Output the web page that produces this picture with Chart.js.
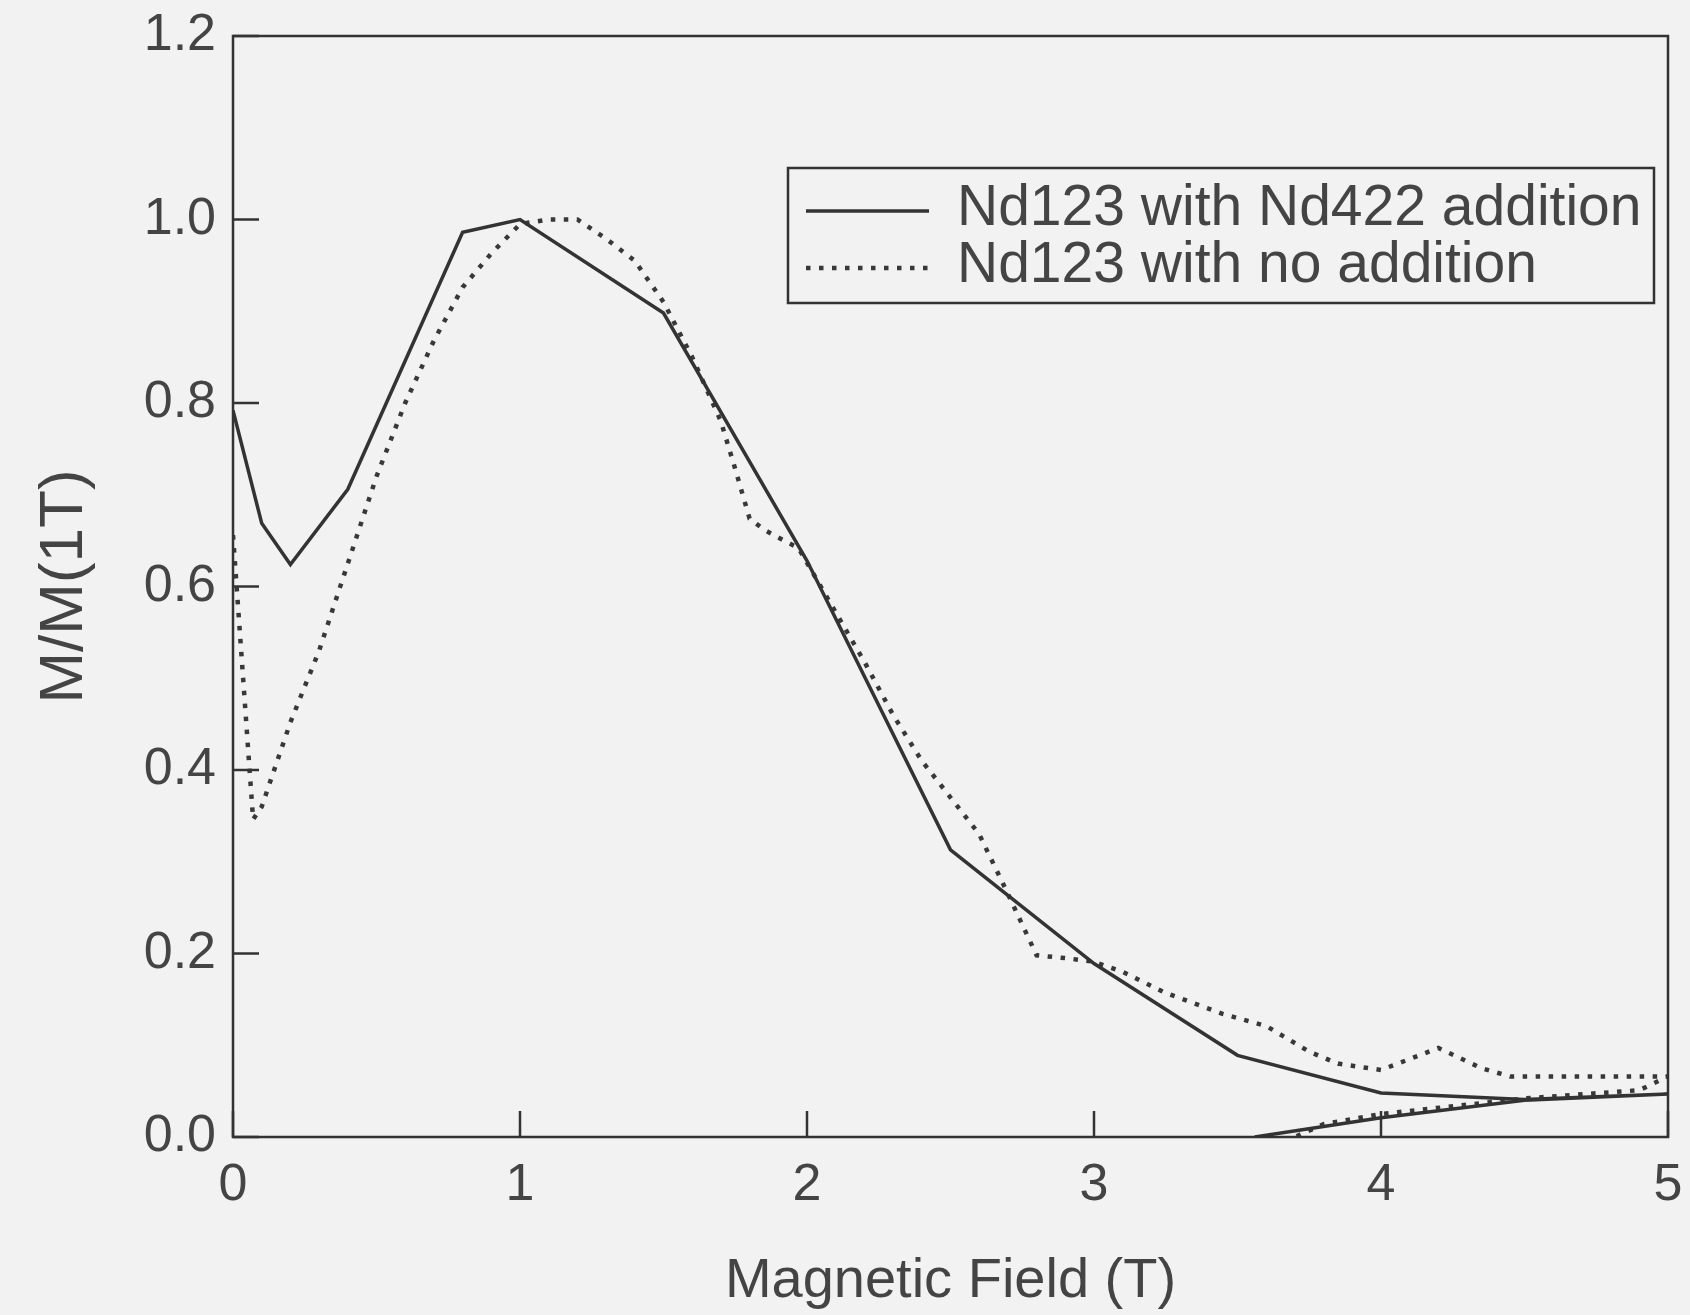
<!DOCTYPE html>
<html>
<head>
<meta charset="utf-8">
<script src="https://cdn.jsdelivr.net/npm/chart.js@4.4.1/dist/chart.umd.min.js"></script>
<style>
html,body{margin:0;padding:0;background:#f3f2f3;}
#wrap{width:1690px;height:1315px;}
canvas{display:block;}
</style>
</head>
<body>
<div id="wrap"><canvas id="c" width="1690" height="1315"></canvas></div>
<script>
// ---- data ----
const seriesLabels = ['Nd123 with Nd422 addition', 'Nd123 with no addition'];
const xTitle = 'Magnetic Field (T)';
const yTitle = 'M/M(1T)';
const xTickValues = [0, 1, 2, 3, 4, 5];
const yTickValues = [0, 0.2, 0.4, 0.6, 0.8, 1.0, 1.2];

// Nd123 with Nd422 addition (up-sweep then return branch)
const nd422Field  = [0, 0.1, 0.2, 0.4, 0.8, 1.0, 1.5, 2.0, 2.5, 3.0, 3.5, 4.0, 4.5, 5.0, 4.5, 4.0, 3.56];
const nd422Moment = [0.792, 0.669, 0.624, 0.706, 0.986, 1.0, 0.898, 0.628, 0.313, 0.189, 0.089, 0.048, 0.041, 0.047, 0.040, 0.021, 0.0];

// Nd123 with no addition (up-sweep then return branch)
const noAddField  = [0, 0.07, 0.1, 0.2, 0.3, 0.4, 0.5, 0.6, 0.7, 0.8, 0.9, 1.0, 1.1, 1.2, 1.3, 1.4, 1.5, 1.6, 1.7, 1.75, 1.8, 1.85, 1.92, 1.97, 2.2, 2.3, 2.4, 2.5, 2.6, 2.7, 2.8, 2.9, 3.0, 3.1, 3.25, 3.45, 3.6, 3.75, 3.85, 4.0, 4.2, 4.35, 4.45, 5.0, 4.9, 4.5, 4.0, 3.8, 3.7];
const noAddMoment = [0.656, 0.346, 0.36, 0.452, 0.53, 0.625, 0.72, 0.80, 0.868, 0.926, 0.963, 0.995, 1.0, 1.0, 0.979, 0.955, 0.91, 0.85, 0.78, 0.728, 0.674, 0.662, 0.65, 0.642, 0.518, 0.46, 0.41, 0.37, 0.33, 0.265, 0.198, 0.195, 0.191, 0.18, 0.157, 0.134, 0.121, 0.093, 0.08, 0.073, 0.097, 0.075, 0.066, 0.066, 0.051, 0.042, 0.025, 0.014, 0.0];

// ---- styling ----
const FONT = "'Liberation Sans', Arial, Helvetica, sans-serif";
const INK = '#333333';
const TEXT = '#444444';
const BG = '#f3f2f3';

const toPoints = (xs, ys) => xs.map((x, i) => ({x: x, y: ys[i]}));

const bgPlugin = {
  id: 'bg',
  beforeDraw(chart) {
    const {ctx, width, height} = chart;
    ctx.save();
    ctx.fillStyle = BG;
    ctx.fillRect(0, 0, width, height);
    ctx.restore();
  }
};

const framePlugin = {
  id: 'frame',
  afterDatasetsDraw(chart) {
    const {ctx, chartArea: ca, scales} = chart;
    ctx.save();
    ctx.strokeStyle = INK;
    ctx.lineWidth = 2.5;
    ctx.strokeRect(ca.left, ca.top, ca.right - ca.left, ca.bottom - ca.top);
    const len = 26;
    scales.y.ticks.forEach(t => {
      const py = scales.y.getPixelForValue(t.value);
      ctx.beginPath(); ctx.moveTo(ca.left, py); ctx.lineTo(ca.left + len, py); ctx.stroke();
    });
    scales.x.ticks.forEach(t => {
      const px = scales.x.getPixelForValue(t.value);
      ctx.beginPath(); ctx.moveTo(px, ca.bottom); ctx.lineTo(px, ca.bottom - len); ctx.stroke();
    });
    ctx.restore();
  }
};

const legendPlugin = {
  id: 'boxLegend',
  afterDraw(chart) {
    const {ctx, chartArea: ca} = chart;
    const boxRight = ca.right - 14;
    const boxLeft = boxRight - 866;
    const boxTop = ca.top + 132;
    const boxH = 135;
    ctx.save();
    ctx.fillStyle = BG;
    ctx.fillRect(boxLeft, boxTop, boxRight - boxLeft, boxH);
    ctx.strokeStyle = INK;
    ctx.lineWidth = 2.5;
    ctx.strokeRect(boxLeft, boxTop, boxRight - boxLeft, boxH);
    const rows = [boxTop + 41, boxTop + 98];
    chart.data.datasets.forEach((ds, i) => {
      const y = rows[i];
      ctx.save();
      ctx.strokeStyle = ds.borderColor;
      ctx.lineWidth = ds.borderWidth;
      ctx.setLineDash(ds.borderDash || []);
      ctx.beginPath();
      ctx.moveTo(boxLeft + 18, y + 2);
      ctx.lineTo(boxLeft + 141, y + 2);
      ctx.stroke();
      ctx.restore();
      ctx.fillStyle = TEXT;
      ctx.font = '57px ' + FONT;
      ctx.textBaseline = 'middle';
      ctx.textAlign = 'left';
      ctx.fillText(ds.label, boxLeft + 169, y);
    });
    ctx.restore();
  }
};

function zeroPadding(scale) {
  scale.paddingTop = 0;
  scale.paddingBottom = 0;
  scale.paddingLeft = 0;
  scale.paddingRight = 0;
}

new Chart(document.getElementById('c'), {
  type: 'scatter',
  data: {
    datasets: [
      {
        label: seriesLabels[0],
        data: toPoints(nd422Field, nd422Moment),
        showLine: true,
        borderColor: INK,
        borderWidth: 3.5,
        pointRadius: 0,
        tension: 0,
        fill: false
      },
      {
        label: seriesLabels[1],
        data: toPoints(noAddField, noAddMoment),
        showLine: true,
        borderColor: '#383838',
        borderWidth: 4.5,
        borderDash: [4.5, 8.5],
        pointRadius: 0,
        tension: 0,
        fill: false
      }
    ]
  },
  options: {
    responsive: false,
    animation: false,
    events: [],
    layout: {padding: {top: 36, right: 22, left: 0, bottom: 0}},
    plugins: {
      legend: {display: false},
      tooltip: {enabled: false},
      title: {display: false}
    },
    scales: {
      x: {
        type: 'linear',
        min: xTickValues[0],
        max: xTickValues[xTickValues.length - 1],
        afterBuildTicks(scale) { scale.ticks = xTickValues.map(v => ({value: v})); },
        afterFit(scale) { scale.height = 178; zeroPadding(scale); },
        grid: {display: false, drawTicks: false, tickLength: 0},
        border: {display: false},
        ticks: {
          padding: 17,
          color: TEXT,
          font: {family: FONT, size: 52},
          maxRotation: 0,
          autoSkip: false,
          callback: v => String(v)
        },
        title: {
          display: true,
          text: xTitle,
          color: TEXT,
          font: {family: FONT, size: 56},
          padding: {top: 0, bottom: 0}
        }
      },
      y: {
        type: 'linear',
        min: yTickValues[0],
        max: yTickValues[yTickValues.length - 1],
        afterBuildTicks(scale) { scale.ticks = yTickValues.map(v => ({value: v})); },
        afterFit(scale) { scale.width = 233; zeroPadding(scale); },
        grid: {display: false, drawTicks: false, tickLength: 0},
        border: {display: false},
        ticks: {
          padding: 17,
          color: TEXT,
          font: {family: FONT, size: 52},
          autoSkip: false,
          callback: v => Number(v).toFixed(1)
        },
        title: {
          display: true,
          text: yTitle,
          color: TEXT,
          font: {family: FONT, size: 62},
          padding: {top: 28, bottom: 0}
        }
      }
    }
  },
  plugins: [bgPlugin, framePlugin, legendPlugin]
});
</script>
</body>
</html>
